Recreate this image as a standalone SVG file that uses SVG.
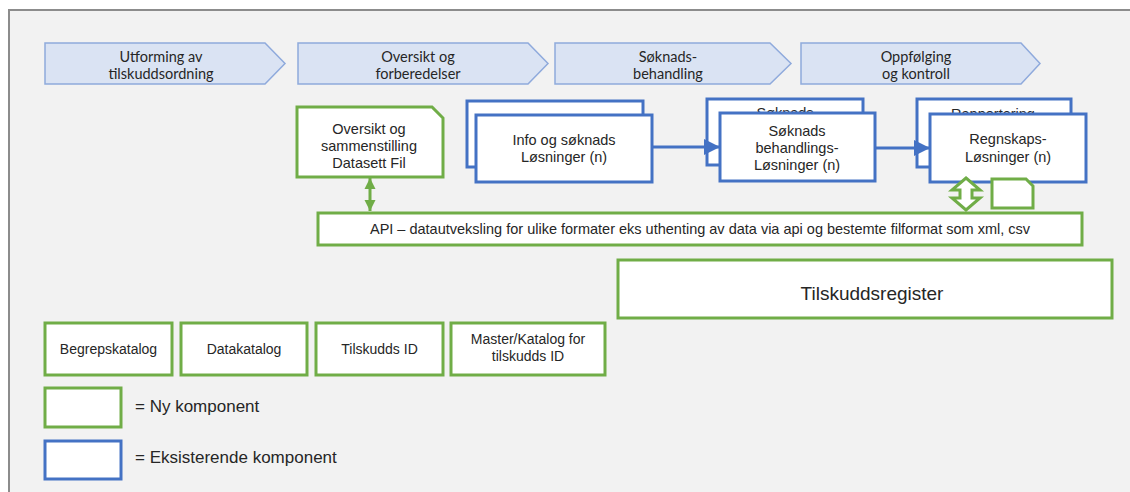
<svg xmlns="http://www.w3.org/2000/svg" width="1130" height="492" viewBox="0 0 1130 492">
  <defs>
    <style>
      .phase { fill: #dae3f3; stroke: #8faadc; stroke-width: 1.5; }
      .phase-text { font-family: Lato, "Open Sans", sans-serif; font-size: 14.5px; fill: #262626; text-anchor: middle; }
      .new { fill: #ffffff; stroke: #70ad47; stroke-width: 3; }
      .existing { fill: #ffffff; stroke: #4472c4; stroke-width: 3; }
      .label { font-family: "Liberation Sans", Arial, sans-serif; font-size: 14.5px; fill: #262626; text-anchor: middle; }
      .small { font-size: 14px; }
      .big { font-size: 19px; }
      .legend-text { font-family: "Liberation Sans", Arial, sans-serif; font-size: 17px; fill: #262626; }
      .flow { stroke: #4472c4; stroke-width: 3; fill: none; }
      .sync { stroke: #70ad47; stroke-width: 3; fill: none; }
    </style>
    <marker id="arrow-blue" viewBox="0 0 10 10" refX="10" refY="5" markerUnits="userSpaceOnUse" markerWidth="18" markerHeight="16" orient="auto">
      <path d="M0,0 L10,5 L0,10 Z" fill="#4472c4"/>
    </marker>
    <marker id="arrow-green" viewBox="0 0 10 10" refX="10" refY="5" markerUnits="userSpaceOnUse" markerWidth="11" markerHeight="13" orient="auto-start-reverse">
      <path d="M0,0 L10,5 L0,10 Z" fill="#70ad47"/>
    </marker>
  </defs>

  <!-- page frame -->
  <rect x="0" y="0" width="1130" height="492" fill="#ffffff"/>
  <rect x="9" y="10" width="1121" height="482" fill="#f2f2f2"/>
  <path d="M9,492 L9,10 L1130,10" fill="none" stroke="#8c8c8c" stroke-width="2"/>

  <!-- process phases -->
  <g id="phase-utforming">
    <polygon class="phase" points="45,43 265,43 285,63.5 265,84 45,84"/>
    <text class="phase-text" x="161" y="62">Utforming av</text>
    <text class="phase-text" x="161" y="79">tilskuddsordning</text>
  </g>
  <g id="phase-oversikt">
    <polygon class="phase" points="298,43 528,43 548,63.5 528,84 298,84"/>
    <text class="phase-text" x="418" y="62">Oversikt og</text>
    <text class="phase-text" x="418" y="79">forberedelser</text>
  </g>
  <g id="phase-soknad">
    <polygon class="phase" points="555,43 770,43 791,63.5 770,84 555,84"/>
    <text class="phase-text" x="668" y="62">Søknads-</text>
    <text class="phase-text" x="668" y="79">behandling</text>
  </g>
  <g id="phase-oppfolging">
    <polygon class="phase" points="801,43 1021,43 1040,63.5 1021,84 801,84"/>
    <text class="phase-text" x="916" y="62">Oppfølging</text>
    <text class="phase-text" x="916" y="79">og kontroll</text>
  </g>

  <!-- dataset file -->
  <g id="node-datasett">
    <path class="new" d="M297,107 L432,107 L443,118 L443,177 L297,177 Z"/>
    <text class="label" x="369" y="134">Oversikt og</text>
    <text class="label" x="369" y="151">sammenstilling</text>
    <text class="label" x="369" y="168">Datasett Fil</text>
  </g>

  <!-- information and application solutions -->
  <g id="node-info">
    <rect class="existing" x="467" y="101" width="176" height="66"/>
    <rect class="existing" x="476" y="115" width="176" height="67"/>
    <text class="label" x="564" y="145">Info og søknads</text>
    <text class="label" x="564" y="162">Løsninger (n)</text>
  </g>

  <!-- application processing solutions -->
  <g id="node-soknad">
    <rect class="existing" x="707" y="99" width="156" height="66"/>
    <text class="label" x="785" y="117.5">Søknads</text>
    <rect class="existing" x="720" y="113" width="155" height="68"/>
    <text class="label" x="797" y="136">Søknads</text>
    <text class="label" x="797" y="153">behandlings-</text>
    <text class="label" x="797" y="170">Løsninger (n)</text>
  </g>

  <!-- accounting solutions -->
  <g id="node-regnskap">
    <rect class="existing" x="917" y="99" width="154" height="68"/>
    <text class="label" x="993" y="118.5">Rapportering</text>
    <rect class="existing" x="930" y="114" width="156" height="68"/>
    <text class="label" x="1008" y="144">Regnskaps-</text>
    <text class="label" x="1008" y="162">Løsninger (n)</text>
  </g>

  <!-- small file -->
  <g id="node-fil">
    <path class="new" d="M992,179 L1026,179 L1033,186 L1033,208 L992,208 Z"/>
  </g>

  <!-- API -->
  <g id="node-api">
    <rect class="new" x="318" y="213" width="764" height="32"/>
    <text class="label" x="700" y="234">API – datautveksling for ulike formater eks uthenting av data via api og bestemte filformat som xml, csv</text>
  </g>

  <!-- register -->
  <g id="node-register">
    <rect class="new" x="618" y="260" width="494" height="58"/>
    <text class="label big" x="872" y="300">Tilskuddsregister</text>
  </g>

  <!-- catalogues -->
  <g id="node-begrepskatalog">
    <rect class="new" x="45" y="323" width="127" height="52"/>
    <text class="label small" x="108.5" y="354">Begrepskatalog</text>
  </g>
  <g id="node-datakatalog">
    <rect class="new" x="181" y="323" width="126" height="52"/>
    <text class="label small" x="244" y="354">Datakatalog</text>
  </g>
  <g id="node-tilskudds-id">
    <rect class="new" x="316" y="323" width="127" height="52"/>
    <text class="label small" x="379.5" y="354">Tilskudds ID</text>
  </g>
  <g id="node-master">
    <rect class="new" x="451" y="323" width="154" height="52"/>
    <text class="label small" x="528" y="344">Master/Katalog for</text>
    <text class="label small" x="528" y="361">tilskudds ID</text>
  </g>

  <!-- legend -->
  <g id="legend-new">
    <rect class="new" x="45" y="388" width="76" height="39"/>
    <text class="legend-text" x="135" y="412">= Ny komponent</text>
  </g>
  <g id="legend-existing">
    <rect class="existing" x="45" y="441" width="76" height="38"/>
    <text class="legend-text" x="135" y="463">= Eksisterende komponent</text>
  </g>

  <!-- connectors, drawn over the nodes -->
  <g id="connectors">
    <line class="flow" x1="652" y1="147" x2="720" y2="147" marker-end="url(#arrow-blue)"/>
    <line class="flow" x1="875" y1="148" x2="930" y2="148" marker-end="url(#arrow-blue)"/>
    <line class="sync" x1="370" y1="178" x2="370" y2="211" marker-start="url(#arrow-green)" marker-end="url(#arrow-green)"/>
    <polygon id="regnskap-api" points="966,178 980,190 972,190 972,198 980,198 966,210 952,198 960,198 960,190 952,190" fill="#ffffff" stroke="#70ad47" stroke-width="3" stroke-linejoin="miter"/>
  </g>
</svg>
